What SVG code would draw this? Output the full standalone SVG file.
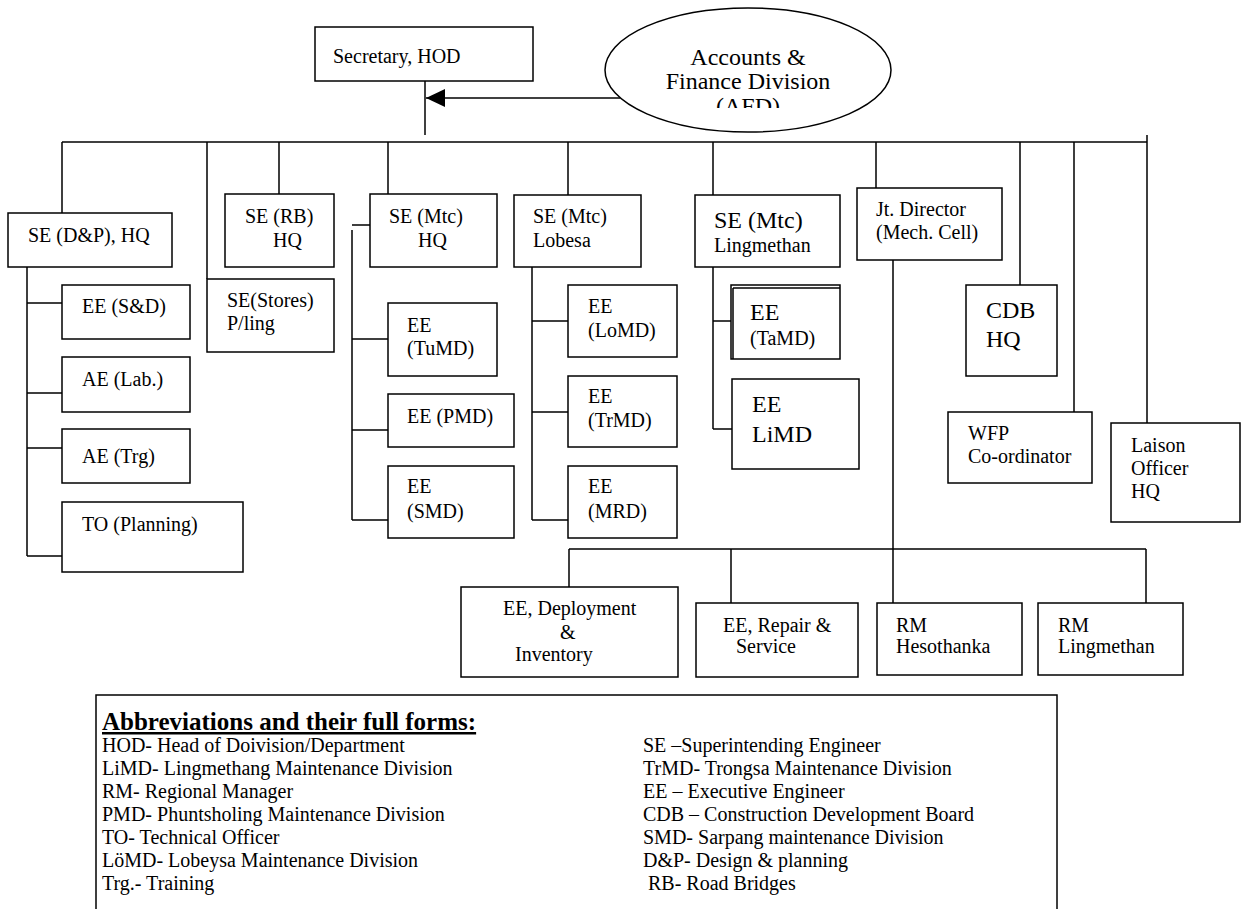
<svg xmlns="http://www.w3.org/2000/svg" width="1249" height="909" viewBox="0 0 1249 909">
<style>
  .box { fill: #fff; stroke: #000; stroke-width: 1.5; }
  .ln { fill: none; stroke: #000; stroke-width: 1.5; }
  text { font-family: "Liberation Serif", "Times New Roman", serif; fill: #000; }
  .t { font-size: 20px; }
  .big { font-size: 24px; }
  .lg { font-size: 20px; }
  .hd { font-size: 25px; font-weight: bold; text-decoration: underline; }
</style>
<defs>
  <marker id="arrow" markerUnits="userSpaceOnUse" markerWidth="19" markerHeight="18" viewBox="0 0 19 18" refX="19" refY="9" orient="auto">
    <path d="M0,0 L19,9 L0,18 z" fill="#000"/>
  </marker>
  <clipPath id="afdclip"><rect x="600" y="0" width="300" height="108"/></clipPath>
</defs>
<rect width="1249" height="909" fill="#fff"/>

<g id="connectors">
  <path class="ln" d="M425,81 V135"/>
  <path class="ln" d="M620,98 H426" marker-end="url(#arrow)"/>
  <path class="ln" d="M62,142 H1147"/>
  <path class="ln" d="M62,142 V213 M207,142 V279 M279,142 V194 M388,142 V194 M568,142 V195 M713,142 V195 M876,142 V188 M1020,142 V285 M1074,142 V412 M1147,135 V423"/>
  <path class="ln" d="M27,267 V556 M27,303 H62 M27,393 H62 M27,448 H62 M27,556 H62"/>
  <path class="ln" d="M352,225 H370 M352,230 V520 M352,339 H388 M352,430 H388 M352,520 H388"/>
  <path class="ln" d="M532,267 V520 M532,321 H568 M532,412 H568 M532,520 H568"/>
  <path class="ln" d="M713,267 V429 M713,321 H731 M713,429 H732"/>
  <path class="ln" d="M893,260 V603 M569,549 H1146 M569,549 V587 M731,549 V603 M1146,549 V603"/>
</g>

<g id="secretary">
  <rect class="box" x="315" y="27" width="218" height="54"/>
  <text class="t" x="333" y="63">Secretary, HOD</text>
</g>
<g id="afd">
  <ellipse class="box" cx="748" cy="70" rx="143" ry="62"/>
  <g clip-path="url(#afdclip)">
    <text class="big" x="748" y="65" text-anchor="middle">Accounts &amp;</text>
    <text class="big" x="748" y="89" text-anchor="middle">Finance Division</text>
    <text class="big" x="748" y="114" text-anchor="middle">(AFD)</text>
  </g>
</g>

<g id="se-dp">
  <rect class="box" x="8" y="213" width="164" height="54"/>
  <text class="t" x="28" y="242">SE (D&amp;P), HQ</text>
</g>
<g id="ee-sd">
  <rect class="box" x="62" y="285" width="128" height="54"/>
  <text class="t" x="82" y="313">EE (S&amp;D)</text>
</g>
<g id="ae-lab">
  <rect class="box" x="62" y="357" width="128" height="55"/>
  <text class="t" x="82" y="386">AE (Lab.)</text>
</g>
<g id="ae-trg">
  <rect class="box" x="62" y="429" width="128" height="54"/>
  <text class="t" x="82" y="463">AE (Trg)</text>
</g>
<g id="to-planning">
  <rect class="box" x="62" y="502" width="181" height="70"/>
  <text class="t" x="82" y="531">TO (Planning)</text>
</g>

<g id="se-rb">
  <rect class="box" x="225" y="194" width="109" height="73"/>
  <text class="t" x="245" y="223">SE (RB)</text>
  <text class="t" x="273" y="247">HQ</text>
</g>
<g id="se-stores">
  <rect class="box" x="207" y="279" width="127" height="73"/>
  <text class="t" x="227" y="307">SE(Stores)</text>
  <text class="t" x="227" y="330">P/ling</text>
</g>

<g id="se-mtc-hq">
  <rect class="box" x="370" y="194" width="127" height="73"/>
  <text class="t" x="389" y="223">SE (Mtc)</text>
  <text class="t" x="418" y="247">HQ</text>
</g>
<g id="ee-tumd">
  <rect class="box" x="388" y="303" width="109" height="73"/>
  <text class="t" x="407" y="332">EE</text>
  <text class="t" x="407" y="355">(TuMD)</text>
</g>
<g id="ee-pmd">
  <rect class="box" x="388" y="394" width="126" height="53"/>
  <text class="t" x="407" y="423">EE (PMD)</text>
</g>
<g id="ee-smd">
  <rect class="box" x="388" y="466" width="126" height="72"/>
  <text class="t" x="407" y="493">EE</text>
  <text class="t" x="407" y="518">(SMD)</text>
</g>

<g id="se-mtc-lobesa">
  <rect class="box" x="514" y="195" width="127" height="72"/>
  <text class="t" x="533" y="223">SE (Mtc)</text>
  <text class="t" x="533" y="247">Lobesa</text>
</g>
<g id="ee-lomd">
  <rect class="box" x="568" y="285" width="109" height="72"/>
  <text class="t" x="588" y="313">EE</text>
  <text class="t" x="588" y="337">(LoMD)</text>
</g>
<g id="ee-trmd">
  <rect class="box" x="568" y="376" width="109" height="71"/>
  <text class="t" x="588" y="403">EE</text>
  <text class="t" x="588" y="427">(TrMD)</text>
</g>
<g id="ee-mrd">
  <rect class="box" x="568" y="466" width="109" height="72"/>
  <text class="t" x="588" y="493">EE</text>
  <text class="t" x="588" y="518">(MRD)</text>
</g>

<g id="se-mtc-lingmethan">
  <rect class="box" x="695" y="195" width="145" height="72"/>
  <text class="big" x="714" y="228">SE (Mtc)</text>
  <text class="t" x="714" y="252">Lingmethan</text>
</g>
<g id="ee-tamd">
  <rect class="box" x="731" y="285" width="109" height="74"/>
  <path class="ln" d="M733,288 H840 M733,288 V359"/>
  <text class="big" x="750" y="320">EE</text>
  <text class="t" x="750" y="345">(TaMD)</text>
</g>
<g id="ee-limd">
  <rect class="box" x="732" y="379" width="127" height="90"/>
  <text class="big" x="752" y="412">EE</text>
  <text class="big" x="752" y="442">LiMD</text>
</g>

<g id="jt-director">
  <rect class="box" x="857" y="188" width="145" height="72"/>
  <text class="t" x="876" y="216">Jt. Director</text>
  <text class="t" x="876" y="239">(Mech. Cell)</text>
</g>
<g id="cdb-hq">
  <rect class="box" x="966" y="285" width="91" height="91"/>
  <text class="big" x="986" y="318">CDB</text>
  <text class="big" x="986" y="347">HQ</text>
</g>
<g id="wfp">
  <rect class="box" x="948" y="412" width="144" height="71"/>
  <text class="t" x="968" y="440">WFP</text>
  <text class="t" x="968" y="463">Co-ordinator</text>
</g>
<g id="laison">
  <rect class="box" x="1111" y="423" width="129" height="99"/>
  <text class="t" x="1131" y="452">Laison</text>
  <text class="t" x="1131" y="475">Officer</text>
  <text class="t" x="1131" y="498">HQ</text>
</g>

<g id="ee-deployment">
  <rect class="box" x="461" y="587" width="217" height="90"/>
  <text class="t" x="503" y="615">EE, Deployment</text>
  <text class="t" x="560" y="639">&amp;</text>
  <text class="t" x="515" y="661">Inventory</text>
</g>
<g id="ee-repair">
  <rect class="box" x="696" y="603" width="162" height="74"/>
  <text class="t" x="723" y="632">EE, Repair &amp;</text>
  <text class="t" x="736" y="653">Service</text>
</g>
<g id="rm-hesothanka">
  <rect class="box" x="877" y="603" width="145" height="72"/>
  <text class="t" x="896" y="632">RM</text>
  <text class="t" x="896" y="653">Hesothanka</text>
</g>
<g id="rm-lingmethan">
  <rect class="box" x="1038" y="603" width="145" height="72"/>
  <text class="t" x="1058" y="632">RM</text>
  <text class="t" x="1058" y="653">Lingmethan</text>
</g>

<g id="legend">
  <rect class="box" x="96" y="695" width="961" height="220"/>
  <text class="hd" x="102" y="730">Abbreviations and their full forms:</text>
  <text class="lg" x="102" y="752">HOD- Head of Doivision/Department</text>
  <text class="lg" x="102" y="775">LiMD- Lingmethang Maintenance Division</text>
  <text class="lg" x="102" y="798">RM- Regional Manager</text>
  <text class="lg" x="102" y="821">PMD- Phuntsholing Maintenance Division</text>
  <text class="lg" x="102" y="844">TO- Technical Officer</text>
  <text class="lg" x="102" y="867">LöMD- Lobeysa Maintenance Division</text>
  <text class="lg" x="102" y="890">Trg.- Training</text>
  <text class="lg" x="643" y="752">SE –Superintending Engineer</text>
  <text class="lg" x="643" y="775">TrMD- Trongsa Maintenance Division</text>
  <text class="lg" x="643" y="798">EE – Executive Engineer</text>
  <text class="lg" x="643" y="821">CDB – Construction Development Board</text>
  <text class="lg" x="643" y="844">SMD- Sarpang maintenance Division</text>
  <text class="lg" x="643" y="867">D&amp;P- Design &amp; planning</text>
  <text class="lg" x="648" y="890">RB- Road Bridges</text>
</g>
</svg>
